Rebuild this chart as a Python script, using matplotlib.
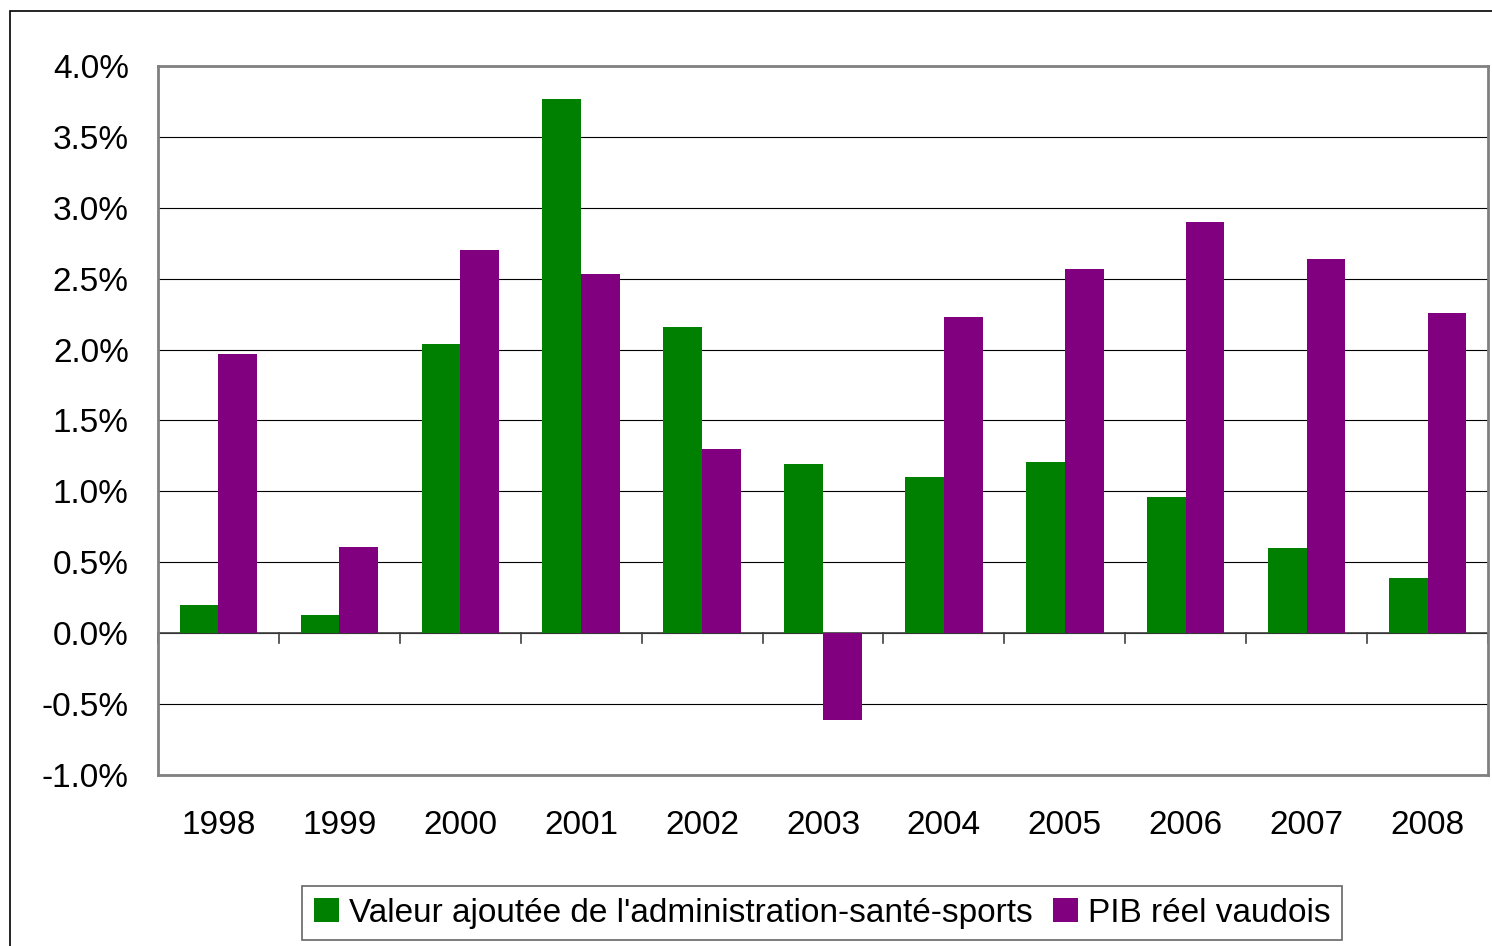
import numpy as np
import matplotlib
matplotlib.use("Agg")
import matplotlib.pyplot as plt
from matplotlib.patches import Rectangle
from matplotlib.ticker import FuncFormatter

plt.rcParams["font.family"] = ["Liberation Sans", "DejaVu Sans"]

years = ["1998", "1999", "2000", "2001", "2002", "2003", "2004", "2005", "2006", "2007", "2008"]
admin_sante = [0.20, 0.13, 2.04, 3.77, 2.16, 1.19, 1.10, 1.21, 0.96, 0.60, 0.39]
pib_vaudois = [1.97, 0.61, 2.70, 2.53, 1.30, -0.61, 2.23, 2.57, 2.90, 2.64, 2.26]
labels = ["Valeur ajoutée de l'administration-santé-sports", "PIB réel vaudois"]

W, H = 1492, 946
fig = plt.figure(figsize=(W / 100, H / 100), dpi=100)
# outer chart frame (extends past right/bottom edges like the reference)
fig.patches.append(Rectangle((10 / W, -0.01), 1.02, 1 - 11 / H + 0.01, transform=fig.transFigure,
                             fill=False, edgecolor="black", lw=1.2))

ax = fig.add_axes([158 / W, 1 - 775 / H, (1488 - 158) / W, (775 - 66) / H])
x = np.arange(len(years))
bw = 0.32
ax.bar(x - bw / 2, admin_sante, bw, color="#008000", label=labels[0], zorder=3)
ax.bar(x + bw / 2, pib_vaudois, bw, color="#800080", label=labels[1], zorder=3)

ax.set_xlim(-0.5, len(years) - 0.5)
ax.set_ylim(-1.0, 4.0)
ax.set_yticks(np.arange(-1.0, 4.01, 0.5))
ax.yaxis.set_major_formatter(FuncFormatter(lambda v, p: f"{v:.1f}%"))
ax.grid(axis="y", color="black", lw=0.8, zorder=0)
ax.tick_params(axis="y", length=0, labelsize=24, pad=21)

# zero line with category separator ticks
ax.axhline(0, color="#404040", lw=1.2, zorder=2)
for b in np.arange(-0.5, len(years) - 0.4, 1.0):
    ax.plot([b, b], [0, -0.07], color="#404040", lw=1.2, zorder=2, clip_on=False)
ax.set_xticks(x)
ax.set_xticklabels(years)
ax.tick_params(axis="x", length=0, labelsize=24, pad=25)
ax.xaxis.set_ticks_position("none")

for s in ax.spines.values():
    s.set_color("#808080")
    s.set_linewidth(2)

leg = fig.legend(loc="center", bbox_to_anchor=(822 / W, 1 - 913 / H), ncol=2, fontsize=24,
                 frameon=True, fancybox=False, edgecolor="#404040", handlelength=0.75,
                 handleheight=0.75, handletextpad=0.3, columnspacing=0.6, borderpad=0.35)
leg.get_frame().set_linewidth(1.2)

fig.savefig("out.png", dpi=100)
